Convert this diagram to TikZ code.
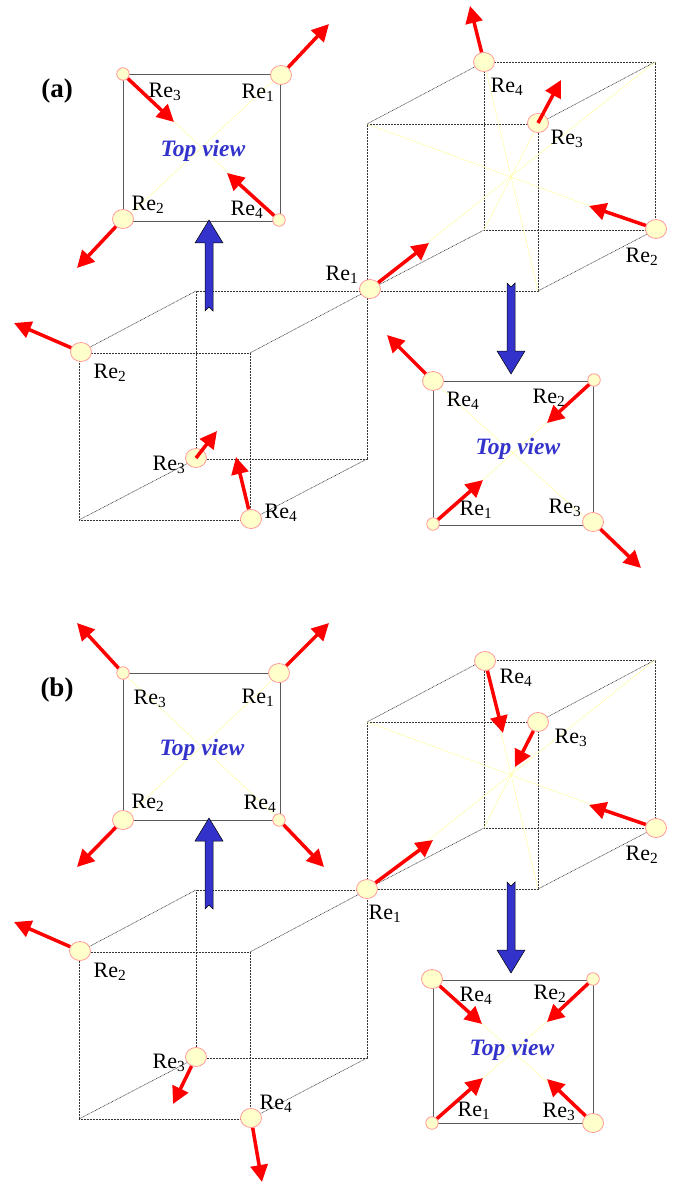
\documentclass[tikz,border=0pt]{standalone}
\usepackage{fontspec}
\setmainfont{Liberation Serif}
\usetikzlibrary{arrows.meta,shapes.geometric}
\definecolor{viewblue}{RGB}{51,51,204}
\definecolor{atomfill}{RGB}{255,255,204}
\definecolor{atomline}{RGB}{255,153,153}

\begin{document}
\begin{tikzpicture}[x=1pt,y=-1pt,
  rebig/.style={ellipse,draw=atomline,fill=atomfill,line width=0.8pt,minimum width=21pt,minimum height=19pt,inner sep=0pt},
  resmall/.style={ellipse,draw=atomline,fill=atomfill,line width=0.8pt,minimum width=12.5pt,minimum height=12.5pt,inner sep=0pt},
  topbox/.style={rectangle,draw=black!65,line width=0.9pt,inner sep=0pt},
  cubeedge/.style={black!80,line width=0.6pt,dash pattern=on 0.8pt off 0.7pt},
  diag/.style={atomfill!85!yellow,line width=0.6pt},
  flow/.style={-{Triangle[width=17pt,length=17pt]},red,line width=3.5pt},
  relabel/.style={inner sep=0pt,font=\fontsize{22}{22}\selectfont},
  viewlabel/.style={inner sep=0pt,text=viewblue,font=\fontsize{23.5}{23.5}\selectfont\bfseries\itshape},
  partlabel/.style={inner sep=0pt,font=\fontsize{27}{27}\selectfont\bfseries},
  blockarrow/.pic={
    \draw[fill=viewblue,draw=black,line width=0.5pt] (0,0) -- (14,23) -- (4,23) -- (4,91)
      -- (0,87) -- (-4,91) -- (-4,23) -- (-14,23) -- cycle;
  }]
  \useasboundingbox (0,0) rectangle (673,1182);
  % cube corners and edges
  \foreach \c/\x/\y in {aL/79/520,aR/367/291,bL/79/1119,bR/367/889} {
    \coordinate (\c fbl) at (\x,\y);
    \coordinate (\c fbr) at (\x+171,\y);
    \coordinate (\c ftr) at (\x+171,\y-167);
    \coordinate (\c ftl) at (\x,\y-167);
    \coordinate (\c bbl) at (\x+117,\y-61);
    \coordinate (\c bbr) at (\x+288,\y-61);
    \coordinate (\c btr) at (\x+288,\y-229);
    \coordinate (\c btl) at (\x+117,\y-229);
    \draw[cubeedge] (\c fbl) -- (\c fbr) -- (\c ftr) -- (\c ftl) -- cycle;
    \draw[cubeedge] (\c bbl) -- (\c bbr) -- (\c btr) -- (\c btl) -- cycle;
    \foreach \p in {bl,br,tr,tl} {
      \draw[cubeedge] (\c f\p) -- (\c b\p);
    }
  }
  % body diagonals, right cubes only
  \foreach \c in {aR,bR} {
    \draw[diag] (\c fbl) -- (\c btr);
    \draw[diag] (\c fbr) -- (\c btl);
    \draw[diag] (\c ftl) -- (\c bbr);
    \draw[diag] (\c ftr) -- (\c bbl);
  }
  % top view boxes
  \foreach \b/\x/\y/\w/\h in {aTl/201.5/147.5/157/147,aBr/513/453/160/144,
                              bTl/201.5/746.5/157/147,bBr/513/1051.5/160/143} {
    \node[topbox,minimum width=\w pt,minimum height=\h pt] (\b) at (\x,\y) {};
    \draw[diag] (\b.north west) -- (\b.south east);
    \draw[diag] (\b.south west) -- (\b.north east);
  }
  % blue arrows
  \pic at (209,220) {blockarrow};
  \pic[yscale=-1] at (511,374) {blockarrow};
  \pic at (209,818) {blockarrow};
  \pic[yscale=-1] at (511,973) {blockarrow};
  % atoms
  \foreach \n/\x/\y in {aTl1/281/75,aTl2/123/219,aBr4/433/381,aBr3/593/522,
                        aL2/81/352,aL3/196/458,aL4/251/519,aR1/370/289,aR2/656/229,aR3/538/123,aR4/484/62,
                        bTl1/279/673,bTl2/123/820,bBr4/432/979,bBr3/593/1123,
                        bL2/80/951,bL3/196/1057,bL4/251/1118,bR1/367/889,bR2/656/828,bR3/538/722,bR4/485/661} {
    \node[rebig] (\n) at (\x,\y) {};
  }
  \foreach \n/\x/\y in {aTl3/123/74,aTl4/279/220,aBr2/594/380,aBr1/433/524,
                        bTl3/123/673,bTl4/279/820,bBr2/593/979,bBr1/432/1123} {
    \node[resmall] (\n) at (\x,\y) {};
  }
  % moments
  \foreach \n/\x/\y in {aTl1/329/24,aTl2/77/268,aTl3/174/122,aTl4/227/173,
                        aBr1/483/480,aBr2/547/423,aBr3/641/568,aBr4/387/335,
                        aL2/14/323,aL4/236/457,aR1/429/243,aR2/589/206,aR4/470/6,
                        bTl1/329/623,bTl2/77/867,bTl3/77/623,bTl4/324/867,
                        bBr1/483/1078,bBr2/547/1022,bBr3/547/1079,bBr4/482/1024,
                        bL2/14/922,bL3/173/1104,bL4/262/1182,bR1/433/840,bR2/589/805,bR3/515/767,bR4/503/733} {
    \coordinate (\n tip) at (\x,\y);
    \draw[flow] (\n) -- (\n tip);
  }
  \foreach \n/\x/\y in {aL3/217/431,aR3/561/80} {
    \coordinate (\n tip) at (\x,\y);
    \draw[flow] (\n.center) -- (\n tip);
  }
  % atom labels
  \foreach \n/\i/\x/\y in {aTl1/1/258/93,aTl2/2/148/205,aTl3/3/165/92,aTl4/4/247/210,
                           aBr1/1/476/510,aBr2/2/549/398,aBr3/3/565/508,aBr4/4/463/401,
                           aL1/1/342/275,aL2/2/110/373,aL3/3/169/465,aL4/4/281/513,
                           aR2/2/642/257,aR3/3/567/139,aR4/4/507/87,
                           bTl1/1/258/698,bTl2/2/148/803,bTl3/3/150/699,bTl4/4/260/804,
                           bBr1/1/474/1111,bBr2/2/550/994,bBr3/3/559/1112,bBr4/4/476/996,
                           bL2/2/110/972,bL3/3/169/1063,bL4/4/276/1104,bR1/1/385/914,
                           bR2/2/642/855,bR3/3/571/738,bR4/4/516/678} {
    \node[relabel] (\n text) at (\x,\y) {Re\textsubscript{\i}};
  }
  % view and part labels
  \node[viewlabel] (aTlview) at (203,151) {Top view};
  \node[viewlabel] (aBrview) at (518,449) {Top view};
  \node[viewlabel] (bTlview) at (202,750) {Top view};
  \node[viewlabel] (bBrview) at (512,1050) {Top view};
  \node[partlabel] (parta) at (57,91) {(a)};
  \node[partlabel] (partb) at (57,690) {(b)};
\end{tikzpicture}
\end{document}
